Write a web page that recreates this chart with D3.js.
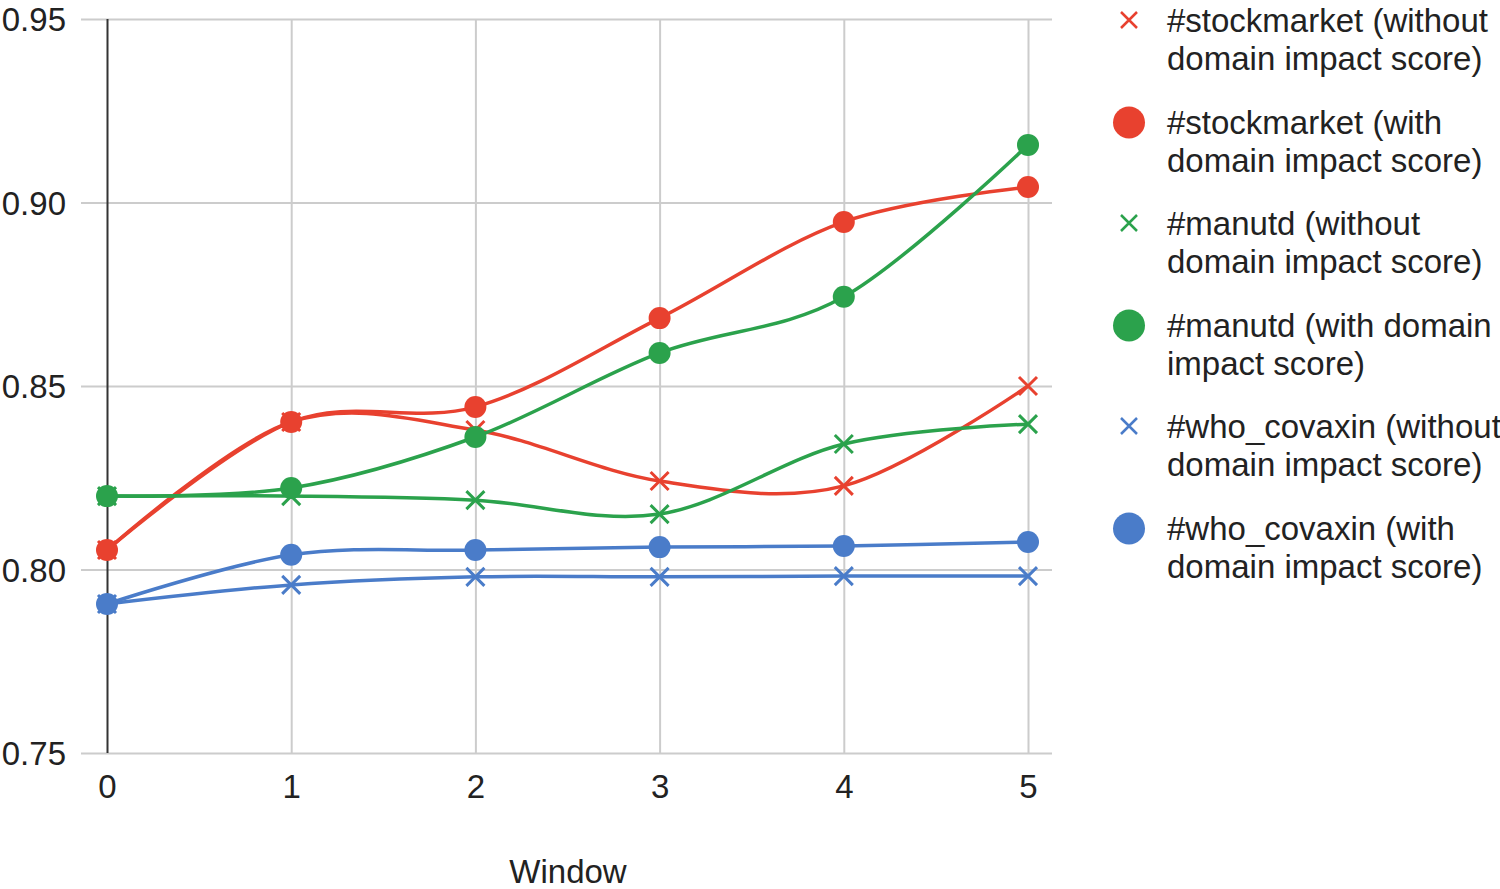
<!DOCTYPE html>
<html><head><meta charset="utf-8">
<script src="https://cdn.jsdelivr.net/npm/d3@7"></script>
<style>
html,body{margin:0;padding:0;background:#fff;}
svg{display:block;font-family:"Liberation Sans",Arial,sans-serif;}
</style></head>
<body>
<svg id="chart" width="1500" height="889"></svg>
<script>
const windows = [0, 1, 2, 3, 4, 5];
const yTicks = [0.75, 0.80, 0.85, 0.90, 0.95];
const xTicks = [0, 1, 2, 3, 4, 5];
const stockWithout = [0.8053, 0.8402, 0.8380, 0.8241, 0.8228, 0.8500];
const stockWith    = [0.8053, 0.8402, 0.8443, 0.8685, 0.8947, 0.9042];
const manWithout   = [0.8200, 0.8200, 0.8189, 0.8151, 0.8342, 0.8396];
const manWith      = [0.8200, 0.8222, 0.8361, 0.8590, 0.8743, 0.9157];
const whoWithout   = [0.7906, 0.7958, 0.7980, 0.7980, 0.7982, 0.7982];
const whoWith      = [0.7906, 0.8040, 0.8053, 0.8061, 0.8064, 0.8075];
const seriesNames = [
  ["#stockmarket (without", "domain impact score)"],
  ["#stockmarket (with", "domain impact score)"],
  ["#manutd (without", "domain impact score)"],
  ["#manutd (with domain", "impact score)"],
  ["#who_covaxin (without", "domain impact score)"],
  ["#who_covaxin (with", "domain impact score)"]
];
const seriesValues = [stockWithout, stockWith, manWithout, manWith, whoWithout, whoWith];
const seriesColors = ["#e8412f", "#e8412f", "#2ba24c", "#2ba24c", "#4a7cc9", "#4a7cc9"];
const seriesMarkers = ["x", "circle", "x", "circle", "x", "circle"];
const xTitle = "Window";

const svg = d3.select("#chart");
const x = d3.scaleLinear().domain([0, 5]).range([107, 1028]);
const y = d3.scaleLinear().domain([0.75, 0.95]).range([753, 19]);
const gridLeft = 81, gridRight = 1052;
const fontSize = 33;

// Y axis with horizontal gridlines
const yAxis = svg.append("g")
  .attr("transform", `translate(${gridLeft},0)`)
  .call(d3.axisLeft(y).tickValues(yTicks).tickFormat(d3.format(".2f"))
        .tickSize(-(gridRight - gridLeft)).tickPadding(15));
yAxis.select(".domain").remove();
yAxis.selectAll(".tick line").attr("stroke", "#cccccc").attr("stroke-width", 2);
yAxis.selectAll(".tick text").attr("fill", "#222").attr("font-size", fontSize)
  .attr("font-family", "Liberation Sans, Arial, sans-serif").attr("dy", "0.36em");

// X axis with vertical gridlines
const xAxis = svg.append("g")
  .attr("transform", `translate(0,${y(0.75)})`)
  .call(d3.axisBottom(x).tickValues(xTicks).tickFormat(d3.format("d"))
        .tickSize(-(y(0.75) - y(0.95))).tickSizeOuter(0).tickPadding(22));
xAxis.select(".domain").remove();
xAxis.selectAll(".tick line")
  .attr("stroke", d => d === 0 ? "#333333" : "#cccccc")
  .attr("stroke-width", 2);
xAxis.selectAll(".tick text").attr("fill", "#222").attr("font-size", fontSize)
  .attr("font-family", "Liberation Sans, Arial, sans-serif");
// bring zero line to top of gridlines
xAxis.selectAll(".tick").filter(d => d === 0).raise();

svg.append("text").attr("x", 568).attr("y", 883).attr("text-anchor", "middle")
  .attr("font-size", fontSize).attr("fill", "#222").text(xTitle);

const line = d3.line().x((d, i) => x(windows[i])).y(d => y(d)).curve(d3.curveCardinal.tension(0));

const plot = svg.append("g");
seriesValues.forEach((vals, si) => {
  plot.append("path").datum(vals)
    .attr("d", line).attr("fill", "none")
    .attr("stroke", seriesColors[si]).attr("stroke-width", 3.5)
    .attr("stroke-linejoin", "round");
});

function drawX(g, cx, cy, s, color, sw) {
  g.append("path")
    .attr("d", `M${cx - s},${cy - s}L${cx + s},${cy + s}M${cx - s},${cy + s}L${cx + s},${cy - s}`)
    .attr("stroke", color).attr("stroke-width", sw).attr("fill", "none");
}

seriesValues.forEach((vals, si) => {
  const g = plot.append("g");
  vals.forEach((v, i) => {
    if (seriesMarkers[si] === "circle") {
      g.append("circle").attr("cx", x(windows[i])).attr("cy", y(v)).attr("r", 11)
        .attr("fill", seriesColors[si]);
    } else {
      drawX(g, x(windows[i]), y(v), 9, seriesColors[si], 3);
    }
  });
});

// Legend
const legend = svg.append("g");
seriesNames.forEach((lines, si) => {
  const base = 32 + si * 101.5;
  const g = legend.append("g");
  if (seriesMarkers[si] === "circle") {
    g.append("circle").attr("cx", 1129).attr("cy", base - 11).attr("r", 16).attr("fill", seriesColors[si]);
  } else {
    drawX(g, 1129, base - 12, 8, seriesColors[si], 2.5);
  }
  lines.forEach((t, li) => {
    g.append("text").attr("x", 1167).attr("y", base + li * 38)
      .attr("font-size", fontSize).attr("fill", "#222").text(t);
  });
});
</script>
</body></html>
